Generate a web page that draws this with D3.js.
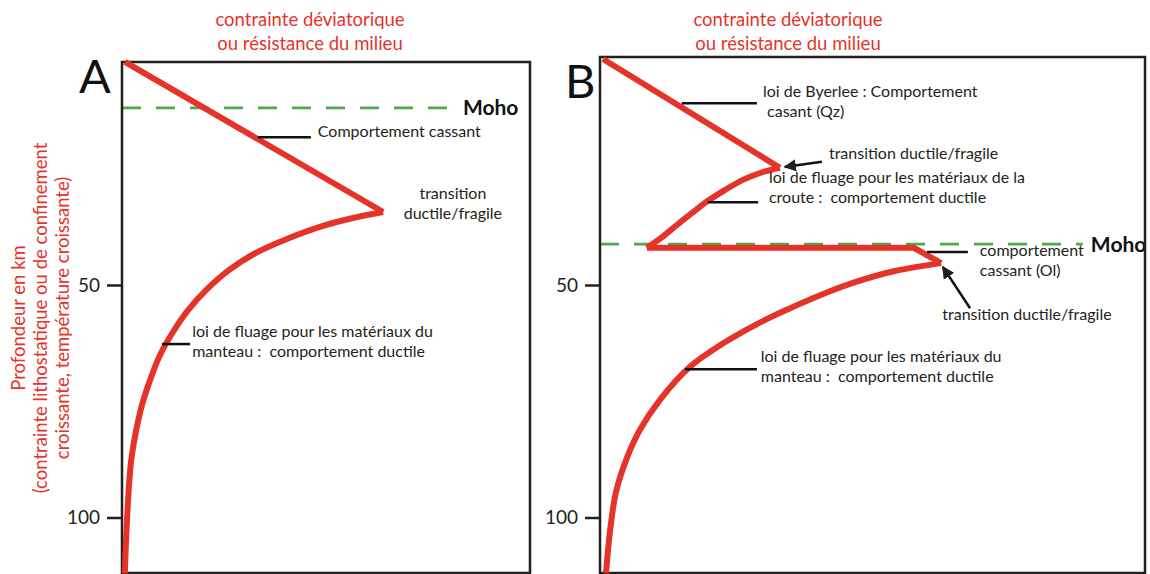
<!DOCTYPE html>
<html>
<head>
<meta charset="utf-8">
<script src="https://cdn.jsdelivr.net/npm/d3@7"></script>
<style>
  body { margin: 0; background: #fff; }
  svg text { font-family: Lato, "Open Sans", sans-serif; white-space: pre; }
</style>
</head>
<body>
<svg id="chart" width="1150" height="574"></svg>
<script>
/* global d3 */

// depth axis (km)
const depthTicks = [50, 100];

// Panel A : [stress (% of frame width), depth (km)]
const brittleA = [[0.7, 2.0], [64.0, 34.3]];
const mantleA = [[64.0, 34.3], [56.6, 35.6], [48.5, 37.5], [40.4, 40.1], [32.8, 43.1],
  [26.2, 46.8], [20.6, 51.1], [16.2, 55.4], [12.5, 60.1], [9.3, 65.1], [6.9, 70.4],
  [4.9, 75.8], [3.4, 81.6], [2.2, 88.1], [1.5, 96.2], [1.0, 104.8], [0.7, 112]];
const mohoA = { depth: 11.9, end: 81.6 };

// Panel B
const brittleB = [[0.55, 1.4], [33.0, 24.8]];
const crustB = [[33.0, 24.8], [29.9, 25.7], [26.2, 27.4], [22.9, 29.6], [19.8, 31.9],
  [16.9, 34.5], [14.1, 37.1], [11.4, 39.7], [8.6, 42.0]];
const mohoStepB = [[8.6, 42.0], [57.6, 42.0], [62.6, 45.3]];
const mantleB = [[62.6, 45.3], [54.1, 47.0], [46.8, 49.4], [40.4, 52.2], [34.5, 55.2],
  [28.8, 58.4], [22.4, 62.7], [16.5, 67.6], [11.0, 74.7], [7.3, 81.2], [4.8, 87.6],
  [2.9, 94.7], [1.8, 103.3], [1.1, 112]];
const mohoB = { depth: 41.2, end: 88.6 };

// annotations : leader [s1, s2, depth], text [s, depth of 1st line], lines
const notesA = [
  { leader: [33.3, 46.3, 18.2], at: [48.0, 18.2], lines: ['Comportement cassant'] },
  { at: [81.1, 31.5], anchor: 'middle', lines: ['transition', 'ductile/fragile'] },
  { leader: [9.8, 16.7, 62.7], at: [17.2, 61.2],
    lines: ['loi de fluage pour les matériaux du', 'manteau :  comportement ductile'] },
];
const notesB = [
  { leader: [15.0, 28.8, 10.9], at: [29.9, 9.6],
    lines: ['loi de Byerlee : Comportement', ' casant (Qz)'] },
  { arrow: [[40.7, 23.5], [33.9, 24.6]], at: [42.0, 22.9], lines: ['transition ductile/fragile'] },
  { leader: [19.8, 29.0, 32.2], at: [31.0, 28.1],
    lines: ['loi de fluage pour les matériaux de la', 'croute :  comportement ductile'] },
  { leader: [60.0, 67.5, 42.9], at: [69.7, 43.7], lines: ['comportement', 'cassant (Ol)'] },
  { arrow: [[67.9, 55.0], [62.9, 46.1]], at: [62.8, 57.5], lines: ['transition ductile/fragile'] },
  { leader: [15.6, 28.8, 68.1], at: [29.5, 66.6],
    lines: ['loi de fluage pour les matériaux du', 'manteau :  comportement ductile'] },
];

const titleLines = ['contrainte déviatorique', 'ou résistance du milieu'];
const yLabelLines = ['Profondeur en km', '(contrainte lithostatique ou de confinement',
  'croissante, température croissante)'];

const RED = '#e5332a';
const GREEN = '#4ea94a';
const INK = '#231f20';

const svg = d3.select('#chart');

svg.append('defs').append('marker')
  .attr('id', 'head')
  .attr('viewBox', '0 0 10 10')
  .attr('refX', 9).attr('refY', 5)
  .attr('markerWidth', 5).attr('markerHeight', 5)
  .attr('markerUnits', 'strokeWidth')
  .attr('orient', 'auto')
  .append('path').attr('d', 'M0,0 L10,5 L0,10 z').attr('fill', INK);

const y = d3.scaleLinear().domain([50, 100]).range([285, 517.5]);

const panels = [
  { letter: 'A', left: 122, right: 530, top: 62, letterX: 79, letterY: 93, titleX: 310,
    segments: [[brittleA, false], [mantleA, true]], moho: mohoA, notes: notesA },
  { letter: 'B', left: 600, right: 1145, top: 57, letterX: 565, letterY: 98, titleX: 788,
    segments: [[brittleB, false], [crustB, true], [mohoStepB, false], [mantleB, true]],
    moho: mohoB, notes: notesB },
];

panels.forEach((p) => {
  const x = d3.scaleLinear().domain([0, 100]).range([p.left, p.right]);
  const g = svg.append('g');
  const bottom = 573;

  // title
  g.append('text')
    .attr('x', p.titleX).attr('y', 26)
    .attr('text-anchor', 'middle')
    .attr('font-size', 18.5).attr('fill', RED)
    .selectAll('tspan').data(titleLines).enter().append('tspan')
    .attr('x', p.titleX).attr('dy', (d, i) => (i ? 24 : 0))
    .text(d => d);

  // letter
  g.append('text').attr('x', p.letterX).attr('y', p.letterY)
    .attr('font-size', 47).attr('fill', '#111').text(p.letter);

  // moho
  g.append('line')
    .attr('x1', x(0)).attr('x2', x(p.moho.end))
    .attr('y1', y(p.moho.depth)).attr('y2', y(p.moho.depth))
    .attr('stroke', GREEN).attr('stroke-width', 2.6)
    .attr('stroke-dasharray', '19,15');
  g.append('text')
    .attr('x', x(p.moho.end) + 8).attr('y', y(p.moho.depth))
    .attr('dy', '0.36em')
    .attr('font-size', 21).attr('font-weight', 'bold').attr('fill', '#111')
    .text('Moho');

  // frame
  g.append('rect')
    .attr('x', p.left).attr('y', p.top)
    .attr('width', p.right - p.left).attr('height', bottom - p.top)
    .attr('fill', 'none').attr('stroke', INK).attr('stroke-width', 2.5);

  // axis
  const axis = g.append('g')
    .attr('transform', `translate(${p.left},0)`)
    .call(d3.axisLeft(y).tickValues(depthTicks).tickSize(15).tickPadding(7));
  axis.select('.domain').remove();
  axis.selectAll('.tick line').attr('stroke', INK).attr('stroke-width', 2.5);
  axis.selectAll('.tick text')
    .attr('font-size', 19).attr('fill', INK)
    .attr('font-family', 'Lato, "Open Sans", sans-serif');

  // strength envelope
  p.segments.forEach(([pts, smooth]) => {
    const line = d3.line()
      .x(d => x(d[0])).y(d => y(d[1]))
      .curve(smooth ? d3.curveCatmullRom.alpha(0.5) : d3.curveLinear);
    g.append('path').datum(pts)
      .attr('d', line)
      .attr('fill', 'none').attr('stroke', RED).attr('stroke-width', 6)
      .attr('stroke-linejoin', 'miter').attr('stroke-linecap', 'butt');
  });

  // annotations
  p.notes.forEach((n) => {
    if (n.leader) {
      g.append('line')
        .attr('x1', x(n.leader[0])).attr('x2', x(n.leader[1]))
        .attr('y1', y(n.leader[2])).attr('y2', y(n.leader[2]))
        .attr('stroke', '#111').attr('stroke-width', 2.5);
    }
    if (n.arrow) {
      g.append('line')
        .attr('x1', x(n.arrow[0][0])).attr('y1', y(n.arrow[0][1]))
        .attr('x2', x(n.arrow[1][0])).attr('y2', y(n.arrow[1][1]))
        .attr('stroke', '#111').attr('stroke-width', 2.5)
        .attr('marker-end', 'url(#head)');
    }
    const tx = x(n.at[0]);
    g.append('text')
      .attr('x', tx).attr('y', y(n.at[1]))
      .attr('dy', '0.35em')
      .attr('text-anchor', n.anchor || 'start')
      .attr('font-size', 16).attr('fill', INK)
      .selectAll('tspan').data(n.lines).enter().append('tspan')
      .attr('x', tx).attr('dy', (d, i) => (i ? 20 : 0))
      .text(d => d);
  });
});

// shared depth label, rotated
const yl = svg.append('text')
  .attr('transform', 'translate(0,318) rotate(-90)')
  .attr('text-anchor', 'middle')
  .attr('font-size', 18.5).attr('fill', RED);
yl.selectAll('tspan').data(yLabelLines).enter().append('tspan')
  .attr('x', 0).attr('y', (d, i) => 25 + i * 22)
  .text(d => d);
</script>
</body>
</html>
